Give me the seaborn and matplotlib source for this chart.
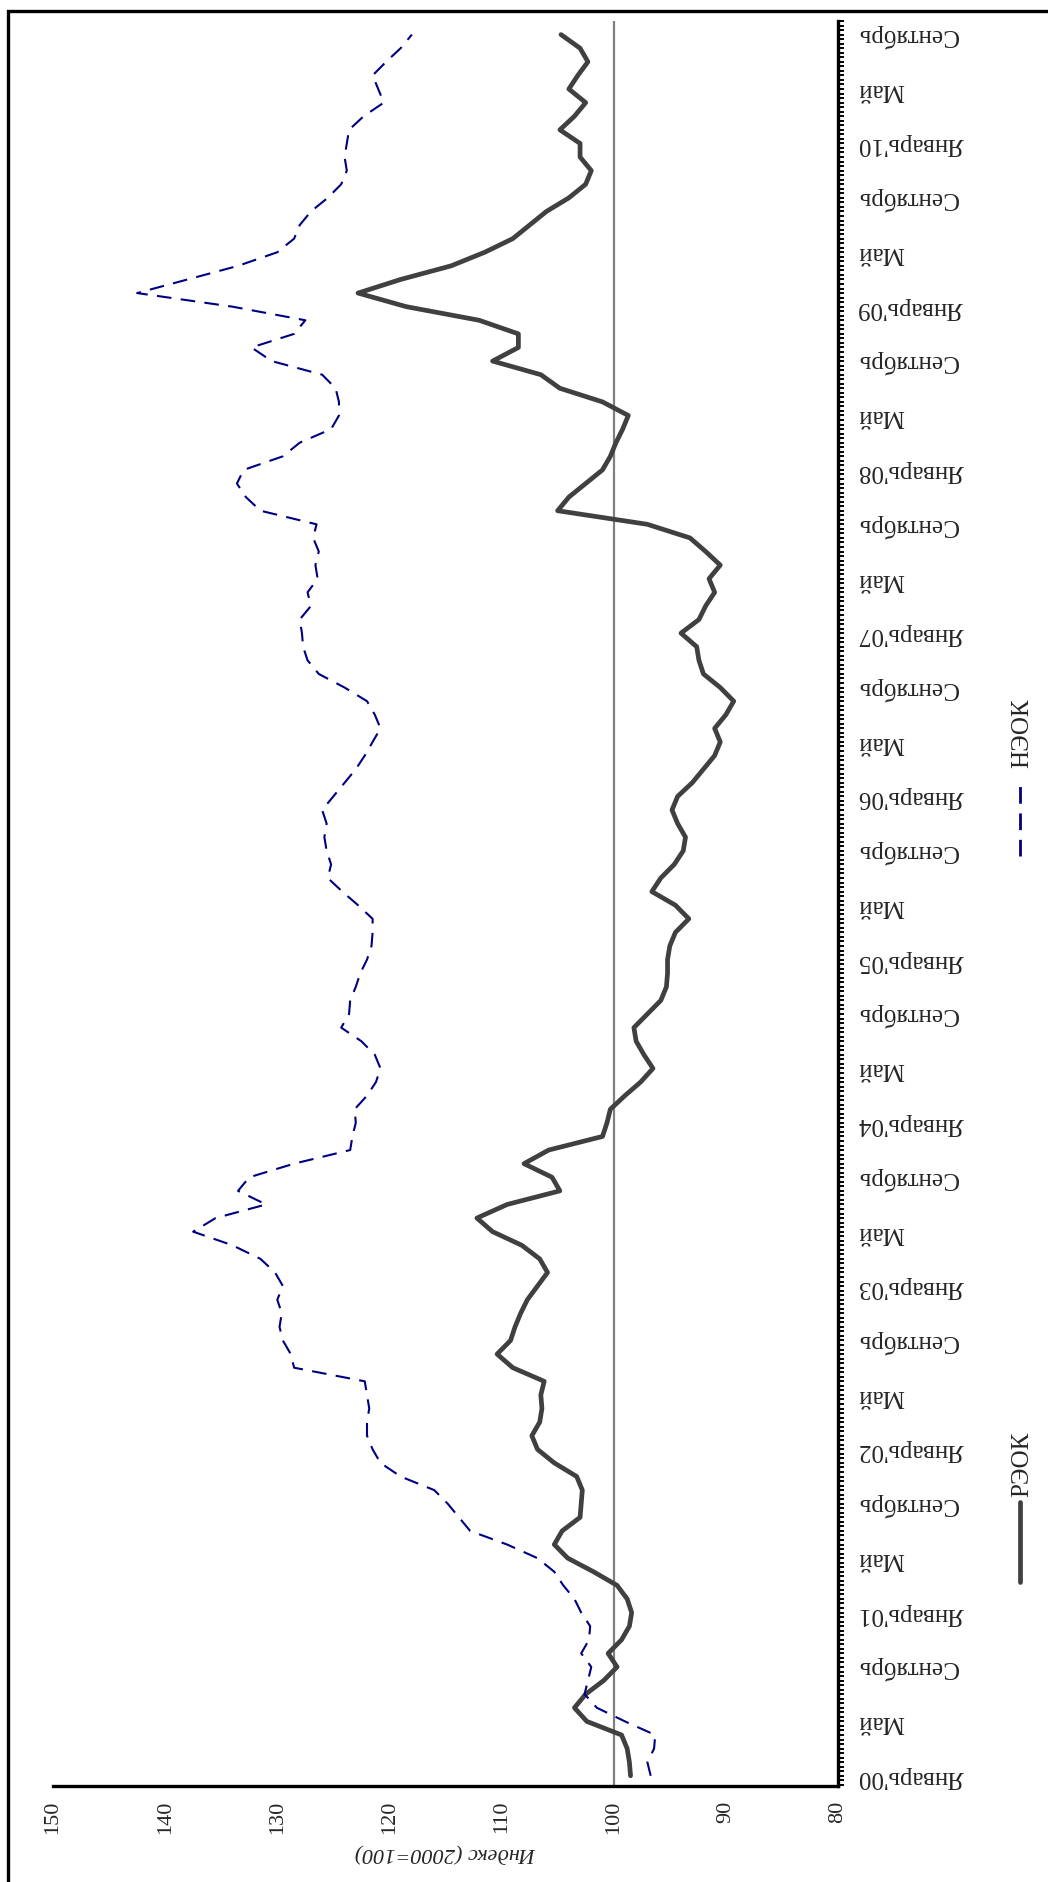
import numpy as np
import pandas as pd
import matplotlib
matplotlib.use('Agg')
import matplotlib.pyplot as plt
import seaborn as sns
from matplotlib.lines import Line2D
from matplotlib.patches import Rectangle
from matplotlib.ticker import MultipleLocator

# индексы РЭОК / НЭОК, помесячно с января 2000 по сентябрь 2010 (2000=100)
reo = [98.5, 98.6, 98.8, 99.3, 102.4, 103.5, 102.5, 100.9, 99.7, 100.5,
       99.3, 98.6, 98.4, 98.8, 99.7, 101.8, 104.1, 105.3, 104.6, 103.0,
       102.9, 102.8, 103.3, 105.3, 106.8, 107.3, 106.6, 106.4, 106.5, 106.2,
       109.0, 110.4, 109.2, 108.8, 108.3, 107.7, 106.8, 105.9, 106.6, 108.2,
       110.8, 112.2, 109.5, 104.8, 105.5, 108.0, 105.8, 101.0, 100.6, 100.3,
       99.0, 97.6, 96.5, 97.3, 98.0, 98.2, 97.0, 95.8, 95.3, 95.2,
       95.2, 95.0, 94.5, 93.3, 94.5, 96.6, 95.8, 94.6, 93.8, 93.6,
       94.3, 94.8, 94.3, 93.0, 92.0, 91.0, 90.5, 91.0, 90.0, 89.3,
       90.5, 92.0, 92.4, 92.6, 94.0, 92.4, 91.8, 91.0, 91.5, 90.5,
       91.8, 93.2, 97.0, 105.0, 104.0, 102.5, 101.0, 100.3, 99.8, 99.2,
       98.7, 101.0, 104.8, 106.5, 110.8, 108.5, 108.5, 112.0, 118.5, 122.8,
       119.0, 114.5, 111.5, 109.0, 107.5, 106.0, 104.0, 102.5, 102.0, 103.0,
       103.0, 104.8, 103.5, 102.5, 104.0, 103.2, 102.3, 103.0, 104.7]

neo = [96.7, 97.0, 96.4, 96.3, 99.0, 101.5, 102.6, 102.3, 102.0, 102.9,
       102.2, 102.1, 102.9, 103.5, 104.5, 105.3, 106.8, 109.5, 112.8, 113.8,
       114.8, 116.0, 119.0, 120.8, 121.5, 122.0, 122.0, 121.8, 122.0, 122.2,
       128.5, 128.8, 129.5, 129.8, 129.6, 130.0, 129.5, 130.2, 131.5, 134.0,
       137.5, 135.5, 131.0, 133.5, 132.5, 128.5, 123.5, 123.3, 123.0, 123.1,
       122.0, 121.2, 120.8, 121.3, 122.5, 124.3, 123.6, 123.5, 123.0, 122.6,
       122.0, 121.6, 121.5, 121.5, 122.8, 124.2, 125.5, 125.2, 125.6, 125.8,
       125.6, 126.0, 125.0, 124.0, 123.0, 122.2, 121.5, 120.8, 121.3, 122.0,
       124.0, 126.3, 127.3, 127.7, 127.8, 128.0, 127.0, 127.3, 126.4, 126.6,
       126.3, 126.8, 126.5, 131.5, 132.8, 133.6, 133.0, 129.5, 128.0, 125.2,
       124.5, 124.5, 124.8, 126.0, 130.5, 132.3, 128.5, 127.5, 134.0, 142.5,
       138.0, 133.5, 130.0, 128.5, 128.0, 127.0, 125.5, 124.3, 123.8, 124.0,
       123.8, 123.6, 122.3, 120.5, 121.0, 121.5, 120.3, 119.0, 118.0]

months = list(range(len(reo)))

month_labels = ["Январь'00", 'Май', 'Сентябрь', "Январь'01", 'Май', 'Сентябрь',
                "Январь'02", 'Май', 'Сентябрь', "Январь'03", 'Май', 'Сентябрь',
                "Январь'04", 'Май', 'Сентябрь', "Январь'05", 'Май', 'Сентябрь',
                "Январь'06", 'Май', 'Сентябрь', "Январь'07", 'Май', 'Сентябрь',
                "Январь'08", 'Май', 'Сентябрь', "Январь'09", 'Май', 'Сентябрь',
                "Январь'10", 'Май', 'Сентябрь']
value_ticks = [150, 140, 130, 120, 110, 100, 90, 80]

sns.set_style('white')
plt.rcParams['font.family'] = ['Liberation Serif', 'DejaVu Serif']

W, H = 1048, 1883
fig = plt.figure(figsize=(W / 100, H / 100), dpi=100)
# график повернут: время идет снизу вверх, значения справа налево
ax = fig.add_axes([53 / W, 1 - 1787 / H, 785 / W, 1765 / H])

df = pd.DataFrame({'month': months, 'reo': reo, 'neo': neo})

ax.axvline(100, color='#808080', lw=1.6, zorder=1)
sns.lineplot(data=df, x='reo', y='month', orient='y', sort=False, estimator=None,
             color='#404040', lw=3.4, solid_joinstyle='round', solid_capstyle='round', ax=ax)
sns.lineplot(data=df, x='neo', y='month', orient='y', sort=False, estimator=None,
             color='#000080', lw=1.5, ax=ax)
ax.lines[-1].set_dashes([7, 4.5])

ax.set_xlim(150, 80)
ax.set_ylim(-0.75, 129)

ax.set_xticks(value_ticks)
ax.set_xticklabels([str(v) for v in value_ticks], rotation=90)
ax.set_xlabel('Индекс (2000=100)', rotation=180, fontstyle='italic', fontsize=16, labelpad=6)

ax.yaxis.tick_right()
ax.set_yticks(months[::4])
ax.set_yticklabels(month_labels, rotation=180, ha='left', va='center')
ax.yaxis.set_minor_locator(MultipleLocator(1 / 3))
ax.set_ylabel('')

ax.tick_params(axis='y', which='both', direction='out', length=4, width=1.4,
               color='black', pad=10, labelsize=18)
ax.tick_params(axis='x', direction='out', length=7, width=1.6, color='black',
               pad=3, labelsize=16)

for side in ['left', 'top']:
    ax.spines[side].set_visible(False)
for side in ['bottom', 'right']:
    ax.spines[side].set_visible(True)
    ax.spines[side].set_linewidth(2.4)
    ax.spines[side].set_color('black')

# легенда (повернута вместе с графиком)
fig.add_artist(Line2D([1020 / W] * 2, [1 - 1583 / H, 1 - 1503 / H], color='#404040',
                      lw=3.4, solid_capstyle='round', transform=fig.transFigure))
fig.text(1022 / W, 1 - 1497 / H, 'РЭОК', rotation=90, ha='center', va='bottom', fontsize=18)
fig.add_artist(Line2D([1020 / W] * 2, [1 - 857 / H, 1 - 783 / H], color='#000080',
                      lw=2.0, dashes=[6, 3.5], transform=fig.transFigure))
fig.text(1022 / W, 1 - 768 / H, 'НЭОК', rotation=90, ha='center', va='bottom', fontsize=18)

# рамка области диаграммы
fig.add_artist(Rectangle((8 / W, -0.5), 2, 1.5 - 12 / H, transform=fig.transFigure,
                         fill=False, lw=2.4, ec='black'))

fig.savefig('out.png', dpi=100)
